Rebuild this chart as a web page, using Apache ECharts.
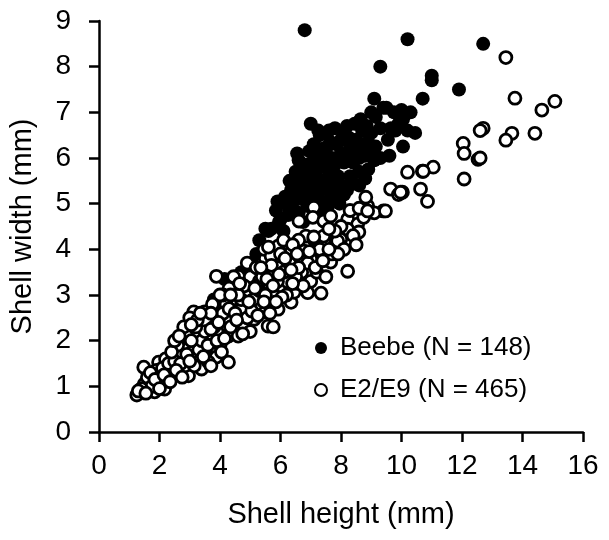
<!DOCTYPE html>
<html>
<head>
<meta charset="utf-8">
<script src="https://cdn.jsdelivr.net/npm/echarts@6/dist/echarts.min.js"></script>
<style>
  html, body { margin: 0; padding: 0; background: #fff; }
  #chart { width: 609px; height: 540px; }
</style>
</head>
<body>
<div id="chart"></div>
<script>
// tick labels
var xTicks = [0, 2, 4, 6, 8, 10, 12, 14, 16];
var yTicks = [0, 1, 2, 3, 4, 5, 6, 7, 8, 9];

// Beebe: [shell height, shell width] in mm
var beebe = [
  [6.8,8.8],[10.2,8.6],[12.7,8.5],[9.3,8.0],[11.0,7.8],[11.0,7.7],[11.9,7.5],[10.7,7.3],
  [9.1,7.3],[9.5,7.1],[10.0,7.05],[10.05,6.85],[7.0,6.75],[8.65,6.85],[9.15,6.9],[9.4,7.1],
  [9.75,7.0],[10.2,6.6],[10.45,6.55],[9.65,6.65],[9.3,6.65],[10.05,6.25],[9.15,6.25],[7.8,6.65],
  [8.1,6.6],[7.65,6.35],[8.0,6.4],[8.3,6.25],[8.55,6.15],[8.9,6.35],[8.9,5.75],[8.8,6.05],
  [6.6,5.95],[6.95,6.15],[7.25,5.8],[6.8,5.7],[7.45,6.05],[7.55,5.75],[7.9,5.6],[8.3,5.6],
  [8.4,5.45],[8.2,5.3],[7.9,5.15],[7.65,5.1],[6.35,5.3],[6.6,5.45],[6.9,5.55],[7.25,5.4],
  [7.0,5.15],[6.7,5.1],[5.9,5.05],[6.25,4.95],[6.45,5.1],[6.9,4.95],[7.35,5.05],[7.75,5.1],
  [6.0,4.65],[5.7,4.45],[6.25,4.75],[7.55,4.9],[5.6,4.4],[5.5,4.45],[5.85,4.85],[6.1,4.4],
  [7.1,6.3],[7.3,6.5],[7.6,6.6],[7.4,6.2],[7.7,6.0],[8.0,6.1],[8.1,5.9],[8.4,5.9],
  [8.6,5.7],[7.1,5.95],[6.85,5.85],[7.15,5.65],[7.4,5.5],[7.7,5.35],[8.0,5.4],[8.5,6.4],
  [8.7,6.6],[8.2,6.7],[8.45,6.75],[8.85,6.7],[9.0,6.55],[9.55,6.4],[9.8,6.6],[9.9,6.75],
  [7.2,6.05],[7.5,5.9],[7.8,5.85],[8.2,6.0],[8.6,6.0],[7.35,5.3],[7.6,5.55],[8.1,5.2],
  [6.5,5.7],[6.7,5.3],[6.4,4.9],[6.6,4.8],[7.0,5.35],[7.2,5.2],[6.15,5.15],[5.95,4.6],
  [7.85,6.3],[8.25,6.45],[7.55,6.25],[8.7,6.3],[9.3,6.0],[9.6,6.05],[8.95,6.1],[7.0,5.8],
  [6.3,5.5],[6.55,6.1],[7.25,6.6],[8.6,5.4],[8.8,5.55],[9.1,5.95],[7.95,5.0],[7.3,4.75],
  [6.75,4.6],[5.3,4.2],[5.2,3.9],[4.7,3.5],[4.3,3.3],[4.15,3.35],[3.5,2.5],[3.0,2.2],
  [2.8,1.5],[2.5,1.7],[5.05,3.7],[4.5,3.2],[3.8,2.9],[6.1,4.2],[10.3,7.0],[9.0,7.0]
];

// E2/E9: [shell height, shell width] in mm
var e2e9 = [
  [1.25,0.81],[1.5,1.05],[1.48,1.42],[1.97,1.53],[1.97,1.23],[2.3,1.31],[1.84,0.88],[2.17,0.94],
  [1.6,1.2],[1.75,1.0],[2.05,1.1],[1.4,0.95],[2.45,1.45],[2.2,1.6],[2.6,1.7],[1.9,1.35],
  [2.63,1.66],[2.63,1.31],[2.96,1.23],[3.29,1.6],[3.39,1.38],[3.88,1.64],[4.28,1.53],[3.62,1.53],
  [2.99,1.93],[2.96,2.32],[3.29,1.93],[3.72,1.97],[3.39,2.25],[3.82,2.47],[3.13,2.63],[3.49,2.63],
  [3.95,2.58],[4.14,2.32],[4.28,2.1],[2.8,1.9],[3.1,1.75],[3.5,1.8],[2.75,2.05],[3.0,2.5],
  [3.6,2.1],[3.9,2.2],[4.0,1.9],[2.85,1.45],[3.15,1.45],[2.4,1.2],[3.55,2.4],[3.2,2.1],
  [4.61,2.32],[4.8,2.32],[5.13,2.47],[5.59,2.32],[4.61,2.69],[4.93,2.69],[3.88,3.41],[4.61,3.41],
  [5.03,3.13],[5.36,3.06],[5.69,2.91],[5.92,2.69],[6.35,2.84],[4.7,2.69],[5.46,2.63],[4.4,2.9],
  [4.2,2.8],[4.5,3.1],[4.85,3.0],[5.2,2.8],[5.0,3.4],[4.3,3.15],[4.1,3.0],[4.4,2.5],
  [5.76,2.3],[5.3,3.3],[5.6,3.2],[5.8,3.0],[6.0,3.2],[6.2,3.4],[4.9,3.7],[5.2,3.6],
  [5.5,3.8],[4.6,2.1],[5.0,2.2],[4.45,3.4],[4.0,3.0],[3.75,2.8],[4.2,2.45],
  [5.46,4.0],[5.79,3.85],[6.02,3.72],[6.35,3.94],[6.51,3.72],[6.25,3.5],[5.46,3.5],[5.79,3.5],
  [6.25,3.28],[6.45,3.06],[5.92,4.07],[6.78,3.96],[5.69,3.85],[6.45,3.79],[7.0,3.79],[7.66,3.72],
  [6.84,4.29],[7.1,4.22],[7.43,4.29],[7.83,4.16],[7.99,4.22],[6.7,3.5],[7.0,3.3],[6.9,3.05],
  [7.34,3.04],[7.2,3.5],[7.5,3.4],[6.6,3.25],[5.9,3.3],[7.7,3.9],[7.3,4.0],[6.6,4.2],
  [7.1,4.92],[6.61,4.62],[7.07,4.7],[7.43,4.62],[7.66,4.73],[8.22,4.66],[8.55,4.55],[8.75,4.7],
  [8.88,4.95],[8.82,5.14],[8.22,4.44],[8.59,4.38],[9.4,4.84],[8.22,3.52],[7.89,4.18],[7.1,4.27],
  [8.0,4.5],[7.8,4.4],[8.4,4.3],[8.5,4.1],[8.1,4.0],[7.6,4.45],[7.9,3.9],[8.3,4.85],
  [8.6,4.9],[9.1,4.8],[9.47,4.84],[8.88,4.84],
  [9.64,5.32],[9.9,5.2],[10.2,5.69],[10.03,5.25],[10.69,5.71],[11.05,5.8],[10.63,5.32],[10.86,5.05],
  [9.97,5.25],[10.72,5.71],
  [13.45,8.2],[13.75,7.31],[15.07,7.24],[14.64,7.05],[12.7,6.65],[12.6,6.6],[13.65,6.54],[13.45,6.39],
  [14.41,6.54],[12.04,6.32],[12.07,6.1],[12.53,5.97],[12.6,6.0],[12.07,5.54],
  [2.1,1.4],[2.3,1.5],[2.5,1.55],[2.7,1.5],[2.9,1.7],[3.0,1.55],[3.3,1.8],[3.4,2.0],
  [3.6,1.9],[3.8,2.3],[3.9,2.0],[4.1,2.6],[4.3,2.7],[4.5,2.6],[4.7,2.9],[4.9,2.5],
  [5.1,2.9],[5.3,3.1],[5.5,3.0],[5.7,3.4],[5.9,3.6],[6.1,3.5],[6.3,3.7],[6.5,3.4],
  [6.7,3.8],[6.9,3.7],[5.2,3.2],[4.8,3.2],[4.6,3.0],[3.7,2.6],[3.5,2.2],[3.2,2.3],
  [2.9,2.1],[2.6,1.9],[2.4,1.75],[6.2,3.0],[6.6,3.6],[6.0,3.9],[5.7,3.65],[5.4,3.4],
  [6.1,4.2],[5.6,4.05],[6.4,4.1],
  [1.3,0.9],[1.55,0.85],[1.7,1.3],[1.85,1.15],[2.0,0.95],[2.15,1.25],[2.35,1.1],[2.55,1.35],
  [2.75,1.2],[2.5,2.0],[2.8,2.3],[3.05,2.0],[3.25,2.45],[3.45,1.65],[3.7,1.45],[3.7,2.25],
  [3.95,2.4],[4.05,1.75],[4.35,2.3],[4.15,2.05],[4.55,2.45],[4.75,2.15],[5.05,2.65],[5.25,2.55],
  [5.45,2.85],[5.65,2.6],[4.35,3.0],[4.65,3.25],[4.95,2.85],[5.15,3.15],[5.35,3.6],[5.55,3.35],
  [5.75,3.2],[5.95,3.45],[6.15,3.8],[6.35,3.55],[6.55,3.9],[6.75,3.2],[6.95,3.95],[7.15,3.6],
  [7.4,3.75],[7.6,4.0],[6.05,2.95],[6.4,3.25],[5.85,2.85],[3.35,2.6],[3.05,2.35],[2.65,2.1]
];

var font = 'Liberation Sans, Arial, sans-serif';
var chart = echarts.init(document.getElementById('chart'));

chart.setOption({
  animation: false,
  backgroundColor: '#fff',
  textStyle: { fontFamily: font, color: '#000' },
  grid: { left: 97, right: 26, top: 21, bottom: 108, containLabel: false },
  legend: {
    orient: 'vertical',
    left: 309,
    top: 330,
    itemWidth: 12,
    itemHeight: 12,
    itemGap: 16,
    icon: 'circle',
    textStyle: { fontFamily: font, fontSize: 26, color: '#000', padding: [0, 0, 0, 8] },
    data: ['Beebe (N = 148)', 'E2/E9 (N = 465)']
  },
  xAxis: {
    type: 'value',
    min: 0,
    max: 16,
    interval: 2,
    name: 'Shell height (mm)',
    nameLocation: 'middle',
    nameGap: 68,
    nameTextStyle: { fontFamily: font, fontSize: 29, color: '#000' },
    splitLine: { show: false },
    axisLine: { show: true, lineStyle: { color: '#000', width: 2.5 } },
    axisTick: { show: true, inside: false, length: 10, lineStyle: { color: '#000', width: 2.5 } },
    axisLabel: { fontFamily: font, fontSize: 28, color: '#000', margin: 20,
      formatter: function (v) { return xTicks.indexOf(v) >= 0 ? String(v) : ''; } }
  },
  yAxis: {
    type: 'value',
    min: 0,
    max: 9,
    interval: 1,
    name: 'Shell width (mm)',
    nameLocation: 'middle',
    nameGap: 62,
    nameTextStyle: { fontFamily: font, fontSize: 29, color: '#000' },
    splitLine: { show: false },
    axisLine: { show: true, lineStyle: { color: '#000', width: 2.5 } },
    axisTick: { show: true, inside: false, length: 10, lineStyle: { color: '#000', width: 2.5 } },
    axisLabel: { fontFamily: font, fontSize: 28, color: '#000', margin: 28,
      formatter: function (v) { return yTicks.indexOf(v) >= 0 ? String(v) : ''; } }
  },
  series: [
    {
      name: 'Beebe (N = 148)',
      type: 'scatter',
      data: beebe,
      symbol: 'circle',
      symbolSize: 14,
      itemStyle: { color: '#000', opacity: 1 }
    },
    {
      name: 'E2/E9 (N = 465)',
      type: 'scatter',
      data: e2e9,
      symbol: 'circle',
      symbolSize: 12,
      itemStyle: { color: '#fff', borderColor: '#000', borderWidth: 2.8, opacity: 1 }
    }
  ]
});
</script>
</body>
</html>
